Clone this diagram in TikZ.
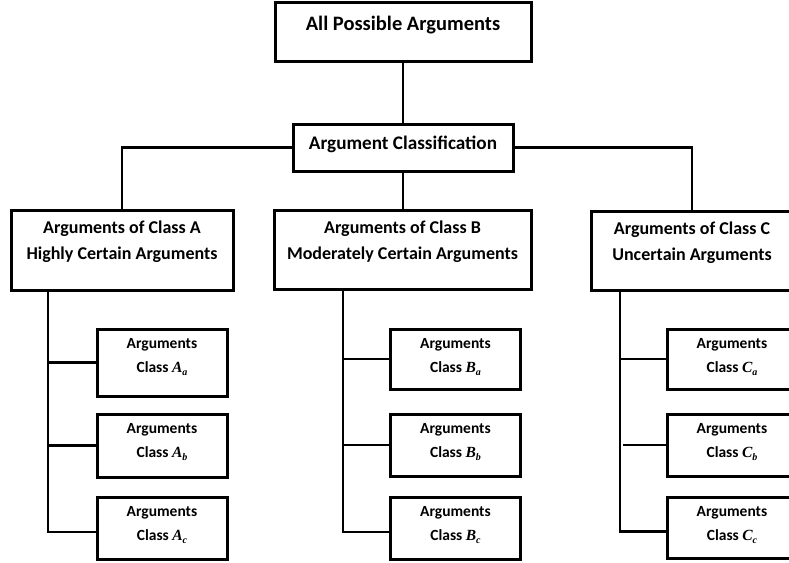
\documentclass[tikz,border=0pt]{standalone}
\usepackage{fontspec}
\setmainfont{Carlito}
\newfontfamily\symfont{Liberation Serif}
% box content set from the top edge: width, height, first baseline, text
\newcommand\topcell[4]{\parbox[c][#2pt][t]{#1pt}{\centering\bfseries\rule{0pt}{#3pt}#4}}
% class symbol with its subscript
\newcommand\clsym[2]{{\symfont\bfseries\itshape #1\raisebox{-0.25em}{\fontsize{10}{10}\selectfont #2}}}
\newcommand\subcell[3]{\topcell{130}{#1}{19}{Arguments\\Class \clsym{#2}{#3}}}
\begin{document}
\begin{tikzpicture}[x=1pt,y=-1pt,
  frame/.style={draw, line width=3pt, inner sep=0pt, fill=white},
  link/.style={line width=2.1pt},
  roottext/.style={font=\fontsize{20.5}{26}\selectfont},
  clstext/.style={font=\fontsize{19.2}{26}\selectfont},
  bigtext/.style={font=\fontsize{18}{26}\selectfont},
  smalltext/.style={font=\fontsize{15.5}{24}\selectfont}]
\clip (0,0) rectangle (789,562);

% root and classification
\node[frame, roottext] (root) at (403,31.5) {\topcell{256}{59}{28}{All Possible Arguments}};
\node[frame, clstext] (cls) at (403,147.5) {\topcell{220}{47}{25}{Argument Classification}};

% the three classes
\node[frame, bigtext] (A) at (122,250)
  {\topcell{222}{80}{23}{Arguments of Class A\\Highly Certain Arguments}};
\node[frame, bigtext] (B) at (402.5,249.5)
  {\topcell{257}{79}{23}{Arguments of Class B\\Moderately Certain Arguments}};
\node[frame, bigtext] (C) at (692,250.5)
  {\topcell{202}{79}{23}{Arguments of Class C\\Uncertain Arguments}};

% sub-classes of A
\node[frame, smalltext] (Aa) at (162,362.5) {\subcell{67}{A}{a}};
\node[frame, smalltext] (Ab) at (162,445.5) {\subcell{63}{A}{b}};
\node[frame, smalltext] (Ac) at (162,528)   {\subcell{62}{A}{c}};
% sub-classes of B
\node[frame, smalltext] (Ba) at (455.5,359) {\subcell{60}{B}{a}};
\node[frame, smalltext] (Bb) at (455.5,445) {\subcell{62}{B}{b}};
\node[frame, smalltext] (Bc) at (455.5,528) {\subcell{62}{B}{c}};
% sub-classes of C
\node[frame, smalltext] (Ca) at (732,359)   {\subcell{60}{C}{a}};
\node[frame, smalltext] (Cb) at (732,445)   {\subcell{62}{C}{b}};
\node[frame, smalltext] (Cc) at (732,527.5) {\subcell{61}{C}{c}};

% tree connectors
\draw[link] (root.south) -- (cls.north);
\draw[link] (cls.west) -| (A.north);
\draw[link] (cls.east) -| (C.north);
\draw[link] (cls.south) -- (cls.south |- B.north);

% spines under each class
\coordinate (sa) at (48,290);
\coordinate (sb) at (343,289);
\coordinate (sc) at (620,290);
\draw[link] (sa) |- ([yshift=-4pt]Ac.west);
\draw[link] (sa |- Aa.west) -- (Aa.west);
\draw[link] (sa |- Ab.west) -- (Ab.west);
\draw[link] (sb) |- ([yshift=-4pt]Bc.west);
\draw[link] (sb |- Ba.west) -- (Ba.west);
\draw[link] (sb |- Bb.west) -- (Bb.west);
\draw[link] (sc) |- ([yshift=-4pt]Cc.west);
\draw[link] (sc |- Ca.west) -- (Ca.west);
\draw[link] ([xshift=3pt]sc |- Cb.west) -- (Cb.west);
\end{tikzpicture}
\end{document}
